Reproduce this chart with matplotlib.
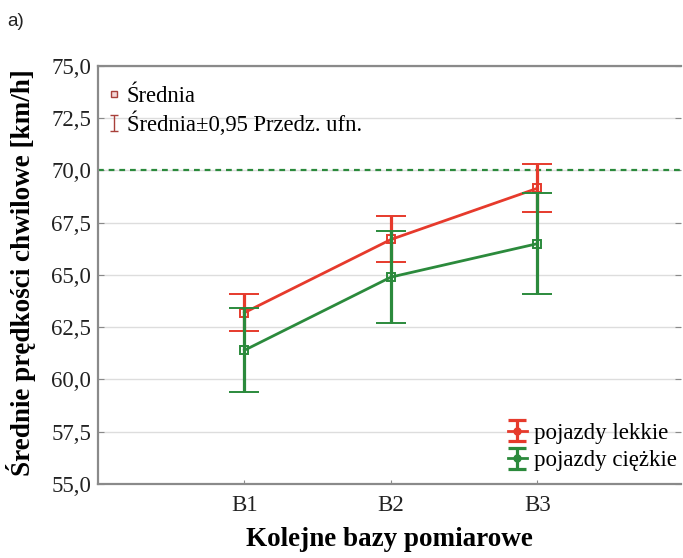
import numpy as np
import matplotlib
matplotlib.use("Agg")
import matplotlib.pyplot as plt
from matplotlib.legend_handler import HandlerErrorbar
from matplotlib.lines import Line2D

# ---- data ----
bases = ["B1", "B2", "B3"]
light_mean = [63.2, 66.7, 69.15]
light_ci = [0.9, 1.1, 1.15]
heavy_mean = [61.4, 64.9, 66.5]
heavy_ci = [2.0, 2.2, 2.4]
limit = 70.0
yticks = [55.0, 57.5, 60.0, 62.5, 65.0, 67.5, 70.0, 72.5, 75.0]

RED = "#e63a2c"
GREEN = "#2b8a3c"
DARKRED = "#a8403a"
SPINE = "#8a8a8a"

plt.rcParams["font.family"] = ["Liberation Serif", "DejaVu Serif"]

fig = plt.figure(figsize=(6.83, 5.58), dpi=100)
ax = fig.add_axes([98 / 683, 1 - 484 / 558, (681 - 98) / 683, (484 - 66) / 558])

x = np.arange(1, len(bases) + 1)

ax.axhline(limit, color=GREEN, lw=1.6, ls=(0, (2.6, 2.2)), zorder=2)

eb_l = ax.errorbar(x, light_mean, yerr=light_ci, color=RED, lw=2.0, elinewidth=2.3,
                   capsize=11, capthick=2.3, marker="s", ms=6, mfc="none", mew=1.4,
                   zorder=3)
eb_h = ax.errorbar(x, heavy_mean, yerr=heavy_ci, color=GREEN, lw=2.0, elinewidth=2.3,
                   capsize=11, capthick=2.3, marker="s", ms=6, mfc="none", mew=1.4,
                   zorder=4)

ax.set_xlim(0, 3.98)
ax.set_ylim(55, 75)
ax.set_xticks(x)
ax.set_xticklabels(bases)
ax.set_yticks(yticks)
ax.set_yticklabels([f"{v:.1f}".replace(".", ",") for v in yticks])
ax.tick_params(axis="both", labelsize=16.5, colors="#222222")
ax.tick_params(axis="y", direction="in", length=4, width=0.8, color=SPINE,
               left=True, right=True, pad=5)
ax.tick_params(axis="x", direction="in", length=3, width=0.8, color=SPINE, pad=8)
ax.grid(axis="y", color="#dddddd", lw=1.0, zorder=0)
ax.set_axisbelow(True)

for s in ["left", "bottom", "top"]:
    ax.spines[s].set_color(SPINE)
    ax.spines[s].set_linewidth(1.6)
ax.spines["right"].set_visible(False)

ax.set_ylabel("Średnie prędkości chwilowe [km/h]", fontsize=19.5, fontweight="bold")
ax.set_xlabel("Kolejne bazy pomiarowe", fontsize=19.5, fontweight="bold", labelpad=8)
ax.yaxis.set_label_coords(-0.106, 0.505)

# legend 1 (statistics key)
h_mean = Line2D([], [], ls="none", marker="s", ms=4, mfc="#f3d6d6", mec=DARKRED, mew=1)
h_ci = ax.errorbar([np.nan], [np.nan], yerr=[np.nan], fmt="none", ecolor=DARKRED,
                   elinewidth=1.0, capsize=3, capthick=1.0)
leg1 = ax.legend([h_mean, h_ci], ["Średnia", "Średnia±0,95 Przedz. ufn."],
                 loc="upper left", bbox_to_anchor=(0.018, 0.952), frameon=False,
                 fontsize=16.3, handlelength=0.5, handletextpad=0.3, labelspacing=0.2,
                 borderpad=0, borderaxespad=0,
                 handler_map={type(h_ci): HandlerErrorbar(yerr_size=0.35)})
ax.add_artist(leg1)

# legend 2 (series)
p_l = ax.errorbar([np.nan], [np.nan], yerr=[np.nan], color=RED, lw=2.0, elinewidth=2.3,
                  capsize=6.5, capthick=2.3, marker="o", ms=5)
p_h = ax.errorbar([np.nan], [np.nan], yerr=[np.nan], color=GREEN, lw=2.0, elinewidth=2.3,
                  capsize=6.5, capthick=2.3, marker="o", ms=5)
ax.legend([p_l, p_h], ["pojazdy lekkie", "pojazdy ciężkie"], loc="lower right",
          bbox_to_anchor=(0.993, 0.03), frameon=False, fontsize=16.5,
          handlelength=0.85, handletextpad=0.3, labelspacing=0.3, borderpad=0,
          borderaxespad=0, handler_map={type(p_l): HandlerErrorbar(yerr_size=0.45)})

fig.text(7 / 683, 1 - 22 / 558, "a)", family=["Liberation Sans", "DejaVu Sans"],
         fontsize=13.5, va="center", ha="left", color="#222222")

fig.savefig("out.png", dpi=100)
